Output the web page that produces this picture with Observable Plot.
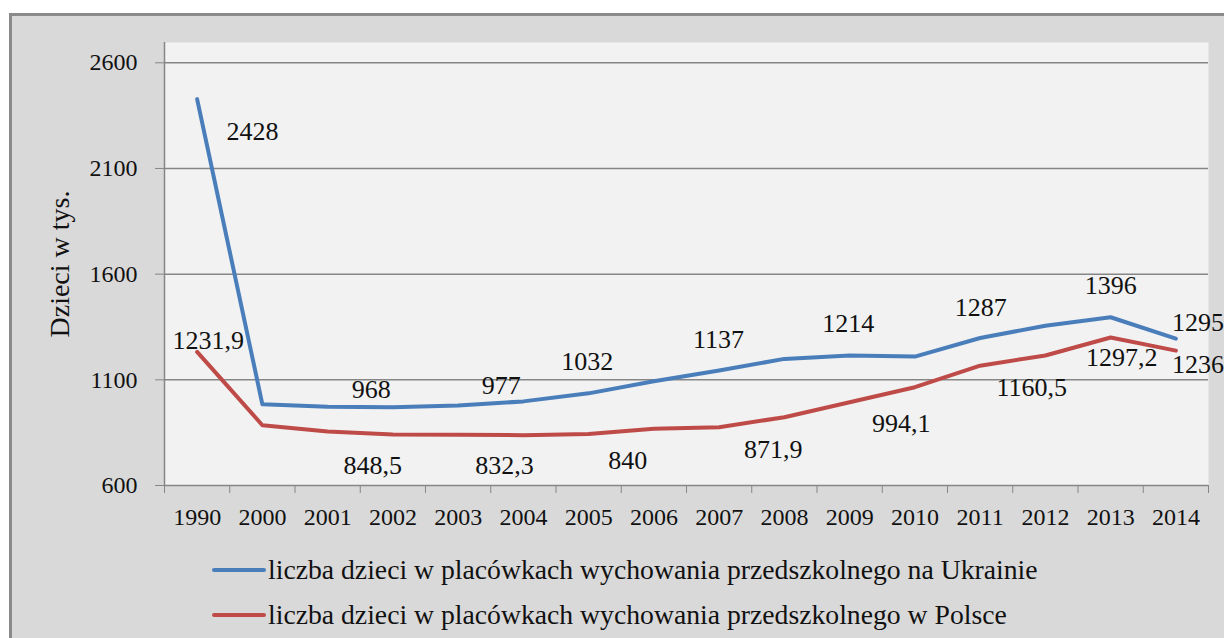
<!DOCTYPE html>
<html>
<head>
<meta charset="utf-8">
<script src="https://cdn.jsdelivr.net/npm/d3@7"></script>
<script src="https://cdn.jsdelivr.net/npm/@observablehq/plot@0.6"></script>
<style>
  body { margin: 0; background: #ffffff; }
  #wrap { position: relative; width: 1224px; height: 638px; overflow: hidden; font-family: "Liberation Serif", "Times New Roman", serif; }
  #bg { position: absolute; left: 9px; top: 13px; width: 1400px; height: 800px; background: #d9d9d9; border-left: 3px solid #8a8a8a; border-top: 3px solid #8a8a8a; }
  #plot { position: absolute; left: 0; top: 0; }
  .leg { position: absolute; left: 212px; height: 30px; display: flex; align-items: center; font-size: 27.7px; color: #111; white-space: nowrap; }
  .leg .sw { width: 54px; height: 4px; border-radius: 2px; margin-right: 2px; }
</style>
</head>
<body>
<div id="wrap">
  <div id="bg"></div>
  <div id="plot"></div>
  <div class="leg" id="leg1" style="top:555px"><span class="sw"></span><span class="tx"></span></div>
  <div class="leg" id="leg2" style="top:600px"><span class="sw"></span><span class="tx"></span></div>
</div>
<script>
// ---- data ----
const years = ["1990","2000","2001","2002","2003","2004","2005","2006","2007","2008","2009","2010","2011","2012","2013","2014"];
const ukraine = [2428, 984, 973, 970, 978, 998, 1036, 1093, 1144, 1199, 1215, 1210, 1298, 1356, 1396, 1295];
const poland  = [1231.9, 885, 855, 841, 840, 838, 844, 868, 876, 923, 994, 1065, 1167, 1215, 1300, 1238];
const seriesNames = [
  "liczba dzieci w placówkach wychowania przedszkolnego na Ukrainie",
  "liczba dzieci w placówkach wychowania przedszkolnego w Polsce"
];
const yTicks = [600, 1100, 1600, 2100, 2600];
const yTitle = "Dzieci w tys.";
// data labels: text, anchor (category index), anchor value
const labelText  = ["2428","968","977","1032","1137","1214","1287","1396","1295",
                    "1231,9","848,5","832,3","840","871,9","994,1","1160,5","1297,2","1236"];
const labelIndex = [0.85, 2.67, 4.66, 5.98, 7.99, 9.98, 12.01, 14.0, 15.34,
                    0.17, 2.69, 4.71, 6.60, 8.83, 10.79, 12.79, 14.17, 15.34];
const labelValue = [2274, 1054, 1073, 1186, 1290, 1366, 1442, 1546, 1371,
                    1286, 695, 695, 718, 770, 893, 1063, 1205, 1172];

const colors = ["#4A7EBB", "#BE4B48"];
const gray = "#868686";

const rows = [];
years.forEach((y, i) => {
  rows.push({i, year: y, value: ukraine[i], s: 0});
  rows.push({i, year: y, value: poland[i], s: 1});
});
const labels = labelText.map((t, k) => ({t, i: labelIndex[k], v: labelValue[k]}));
const bounds = d3.range(years.length + 1).map(k => k - 0.5);

const chart = Plot.plot({
  width: 1224,
  height: 540,
  marginLeft: 164,
  marginRight: 16,
  marginTop: 42,
  marginBottom: 55,
  style: {fontFamily: "'Liberation Serif', 'Times New Roman', serif", background: "transparent", overflow: "visible", color: "#111"},
  x: {type: "linear", domain: [-0.5, years.length - 0.5]},
  y: {domain: [600, 2696]},
  marks: [
    Plot.frame({fill: "#f2f2f2", stroke: null}),
    Plot.gridY(yTicks.slice(1), {stroke: gray, strokeOpacity: 1, strokeWidth: 1.5}),
    Plot.ruleY([600], {stroke: gray, strokeWidth: 1.5}),
    Plot.ruleX([-0.5], {stroke: gray, strokeWidth: 1.5}),
    Plot.axisY({ticks: yTicks, tickSize: 9, tickPadding: 18, tickFormat: d => String(d), fontSize: 24, label: null, stroke: gray, strokeOpacity: 1, fill: "#111"}),
    Plot.axisX({ticks: bounds, tickSize: 8, tickFormat: () => "", label: null, stroke: gray, strokeOpacity: 1}),
    Plot.axisX({ticks: d3.range(years.length), tickSize: 0, tickPadding: 22, tickFormat: k => years[k], fontSize: 24, label: null, fill: "#111"}),
    Plot.line(rows.filter(d => d.s === 1), {x: "i", y: "value", stroke: colors[1], strokeWidth: 4}),
    Plot.line(rows.filter(d => d.s === 0), {x: "i", y: "value", stroke: colors[0], strokeWidth: 4}),
    Plot.text(labels, {x: "i", y: "v", text: "t", fontSize: 26, fill: "#111", lineAnchor: "middle"}),
    Plot.text([yTitle], {frameAnchor: "left", textAnchor: "middle", lineAnchor: "middle", dx: -104, rotate: -90, fontSize: 28, fill: "#111"})
  ]
});
document.getElementById("plot").appendChild(chart);

[["leg1", 0], ["leg2", 1]].forEach(([id, s]) => {
  const el = document.getElementById(id);
  el.querySelector(".sw").style.background = colors[s];
  el.querySelector(".tx").textContent = seriesNames[s];
});
</script>
</body>
</html>
